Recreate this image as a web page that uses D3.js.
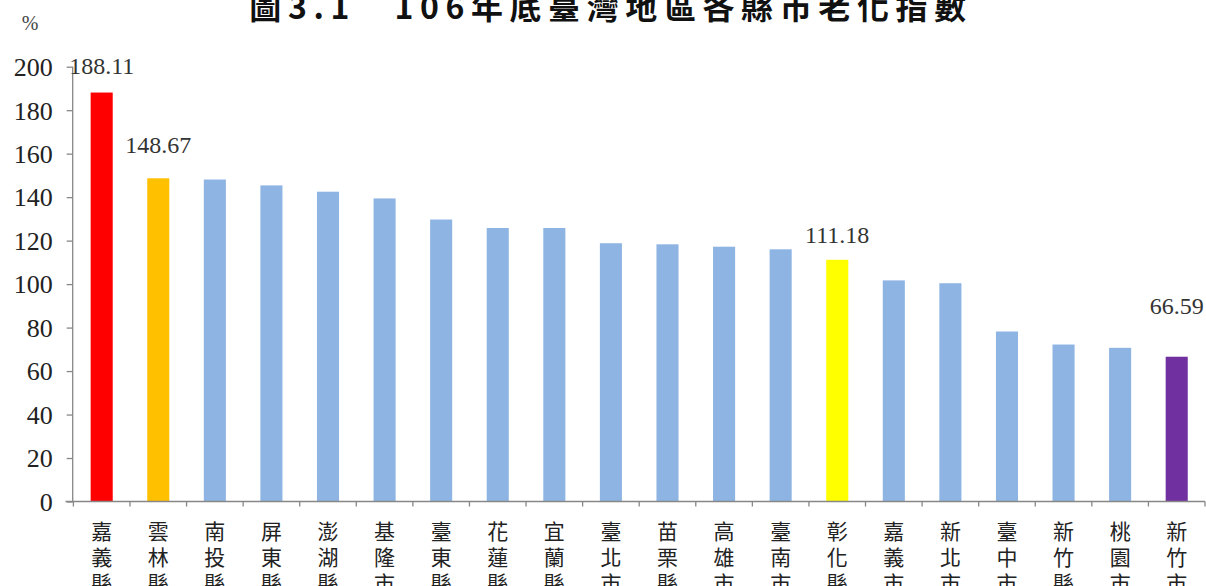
<!DOCTYPE html>
<html><head><meta charset="utf-8">
<script src="https://cdn.jsdelivr.net/npm/d3@7"></script>
<style>
html,body{margin:0;padding:0;background:#fff;overflow:hidden;}
svg{display:block;}
.serif{font-family:"Liberation Serif","DejaVu Serif",serif;}
.cjk{font-family:"Noto Sans CJK TC","Noto Sans CJK SC",sans-serif;}
</style></head>
<body>
<svg id="chart" width="1206" height="586"></svg>
<script>
const categories = ["嘉義縣","雲林縣","南投縣","屏東縣","澎湖縣","基隆市","臺東縣","花蓮縣","宜蘭縣","臺北市","苗栗縣","高雄市","臺南市","彰化縣","嘉義市","新北市","臺中市","新竹縣","桃園市","新竹市"];
const values = [188.11,148.67,148.1,145.4,142.5,139.4,129.7,125.8,125.8,118.8,118.3,117.2,116.0,111.18,101.7,100.4,78.2,72.2,70.7,66.59];
const yTicks = [0,20,40,60,80,100,120,140,160,180,200];
const labelIndex = [0,1,13,19];
const titleText = "圖3.1\u3000106年底臺灣地區各縣市老化指數";
const unitText = "%";

const colorMap = {0:"#FF0000",1:"#FFC000",13:"#FFFF00",19:"#7030A0"};
const baseColor = "#8DB4E2";
const axisColor = "#878787";

const svg = d3.select("#chart");
const x = d3.scaleBand().domain(categories).range([73.4, 1205]).paddingInner(0.61).paddingOuter(0.305);
const y = d3.scaleLinear().domain([0,200]).range([501.5, 66.7]);

// bars
svg.append("g").selectAll("rect").data(categories).join("rect")
  .attr("x", d => x(d))
  .attr("width", x.bandwidth())
  .attr("y", (d,i) => y(values[i]))
  .attr("height", (d,i) => y(0) - y(values[i]))
  .attr("fill", (d,i) => colorMap[i] || baseColor);

// y axis
const yAxis = d3.axisLeft(y).tickValues(yTicks).tickSize(6).tickPadding(14).tickFormat(d3.format("d"));
const gy = svg.append("g").attr("transform","translate(72.7,0)").call(yAxis);
gy.attr("font-family", null).attr("font-size", null);
gy.select(".domain").attr("stroke", axisColor).attr("stroke-width",1.3).attr("d", `M0,${y(200)}V${y(0)}`);
gy.selectAll(".tick line").attr("stroke", axisColor).attr("stroke-width",1.3);
gy.selectAll(".tick text").attr("class","serif").attr("fill","#222")
  .style("font-family",'"Liberation Serif","DejaVu Serif",serif').style("font-size","26px").attr("dy","0.34em");

// x axis with ticks at band boundaries
const gx = svg.append("g");
gx.append("line").attr("x1",65.5).attr("x2",1205).attr("y1",y(0)).attr("y2",y(0)).attr("stroke",axisColor).attr("stroke-width",1.5);
const step = x.step();
const bounds = d3.range(categories.length + 1).map(i => x.range()[0] + i*step);
gx.selectAll("line.tk").data(bounds).join("line").attr("class","tk")
  .attr("x1",d=>d).attr("x2",d=>d).attr("y1",y(0)).attr("y2",y(0)+5)
  .attr("stroke",axisColor).attr("stroke-width",1.3);

// x labels vertical (one text per character)
const xg = svg.append("g").attr("class","cjk");
categories.forEach(d => {
  const cx = x(d) + x.bandwidth()/2;
  Array.from(d).forEach((ch,k) => {
    xg.append("text").attr("x",cx).attr("y",539 + k*26)
      .attr("text-anchor","middle").style("font-size","21px").attr("fill","#222").text(ch);
  });
});

// value labels
const labelDy = {0:19,1:25,13:17,19:43};
svg.append("g").selectAll("text").data(labelIndex).join("text")
  .attr("class","serif")
  .attr("x", i => x(categories[i]) + x.bandwidth()/2)
  .attr("y", i => y(values[i]) - labelDy[i])
  .attr("text-anchor","middle")
  .style("font-size","24px")
  .attr("fill","#333")
  .text(i => values[i].toFixed(2));

// title
svg.append("text").attr("class","cjk").attr("x",611).attr("y",19).attr("text-anchor","middle")
  .attr("font-weight",700).style("font-size","32px").attr("letter-spacing",6.6)
  .attr("fill","#111").text(titleText);

// unit
svg.append("text").attr("class","serif").attr("x",30).attr("y",30).attr("text-anchor","middle")
  .style("font-size","20px").attr("fill","#444").text(unitText);
</script>
</body></html>
